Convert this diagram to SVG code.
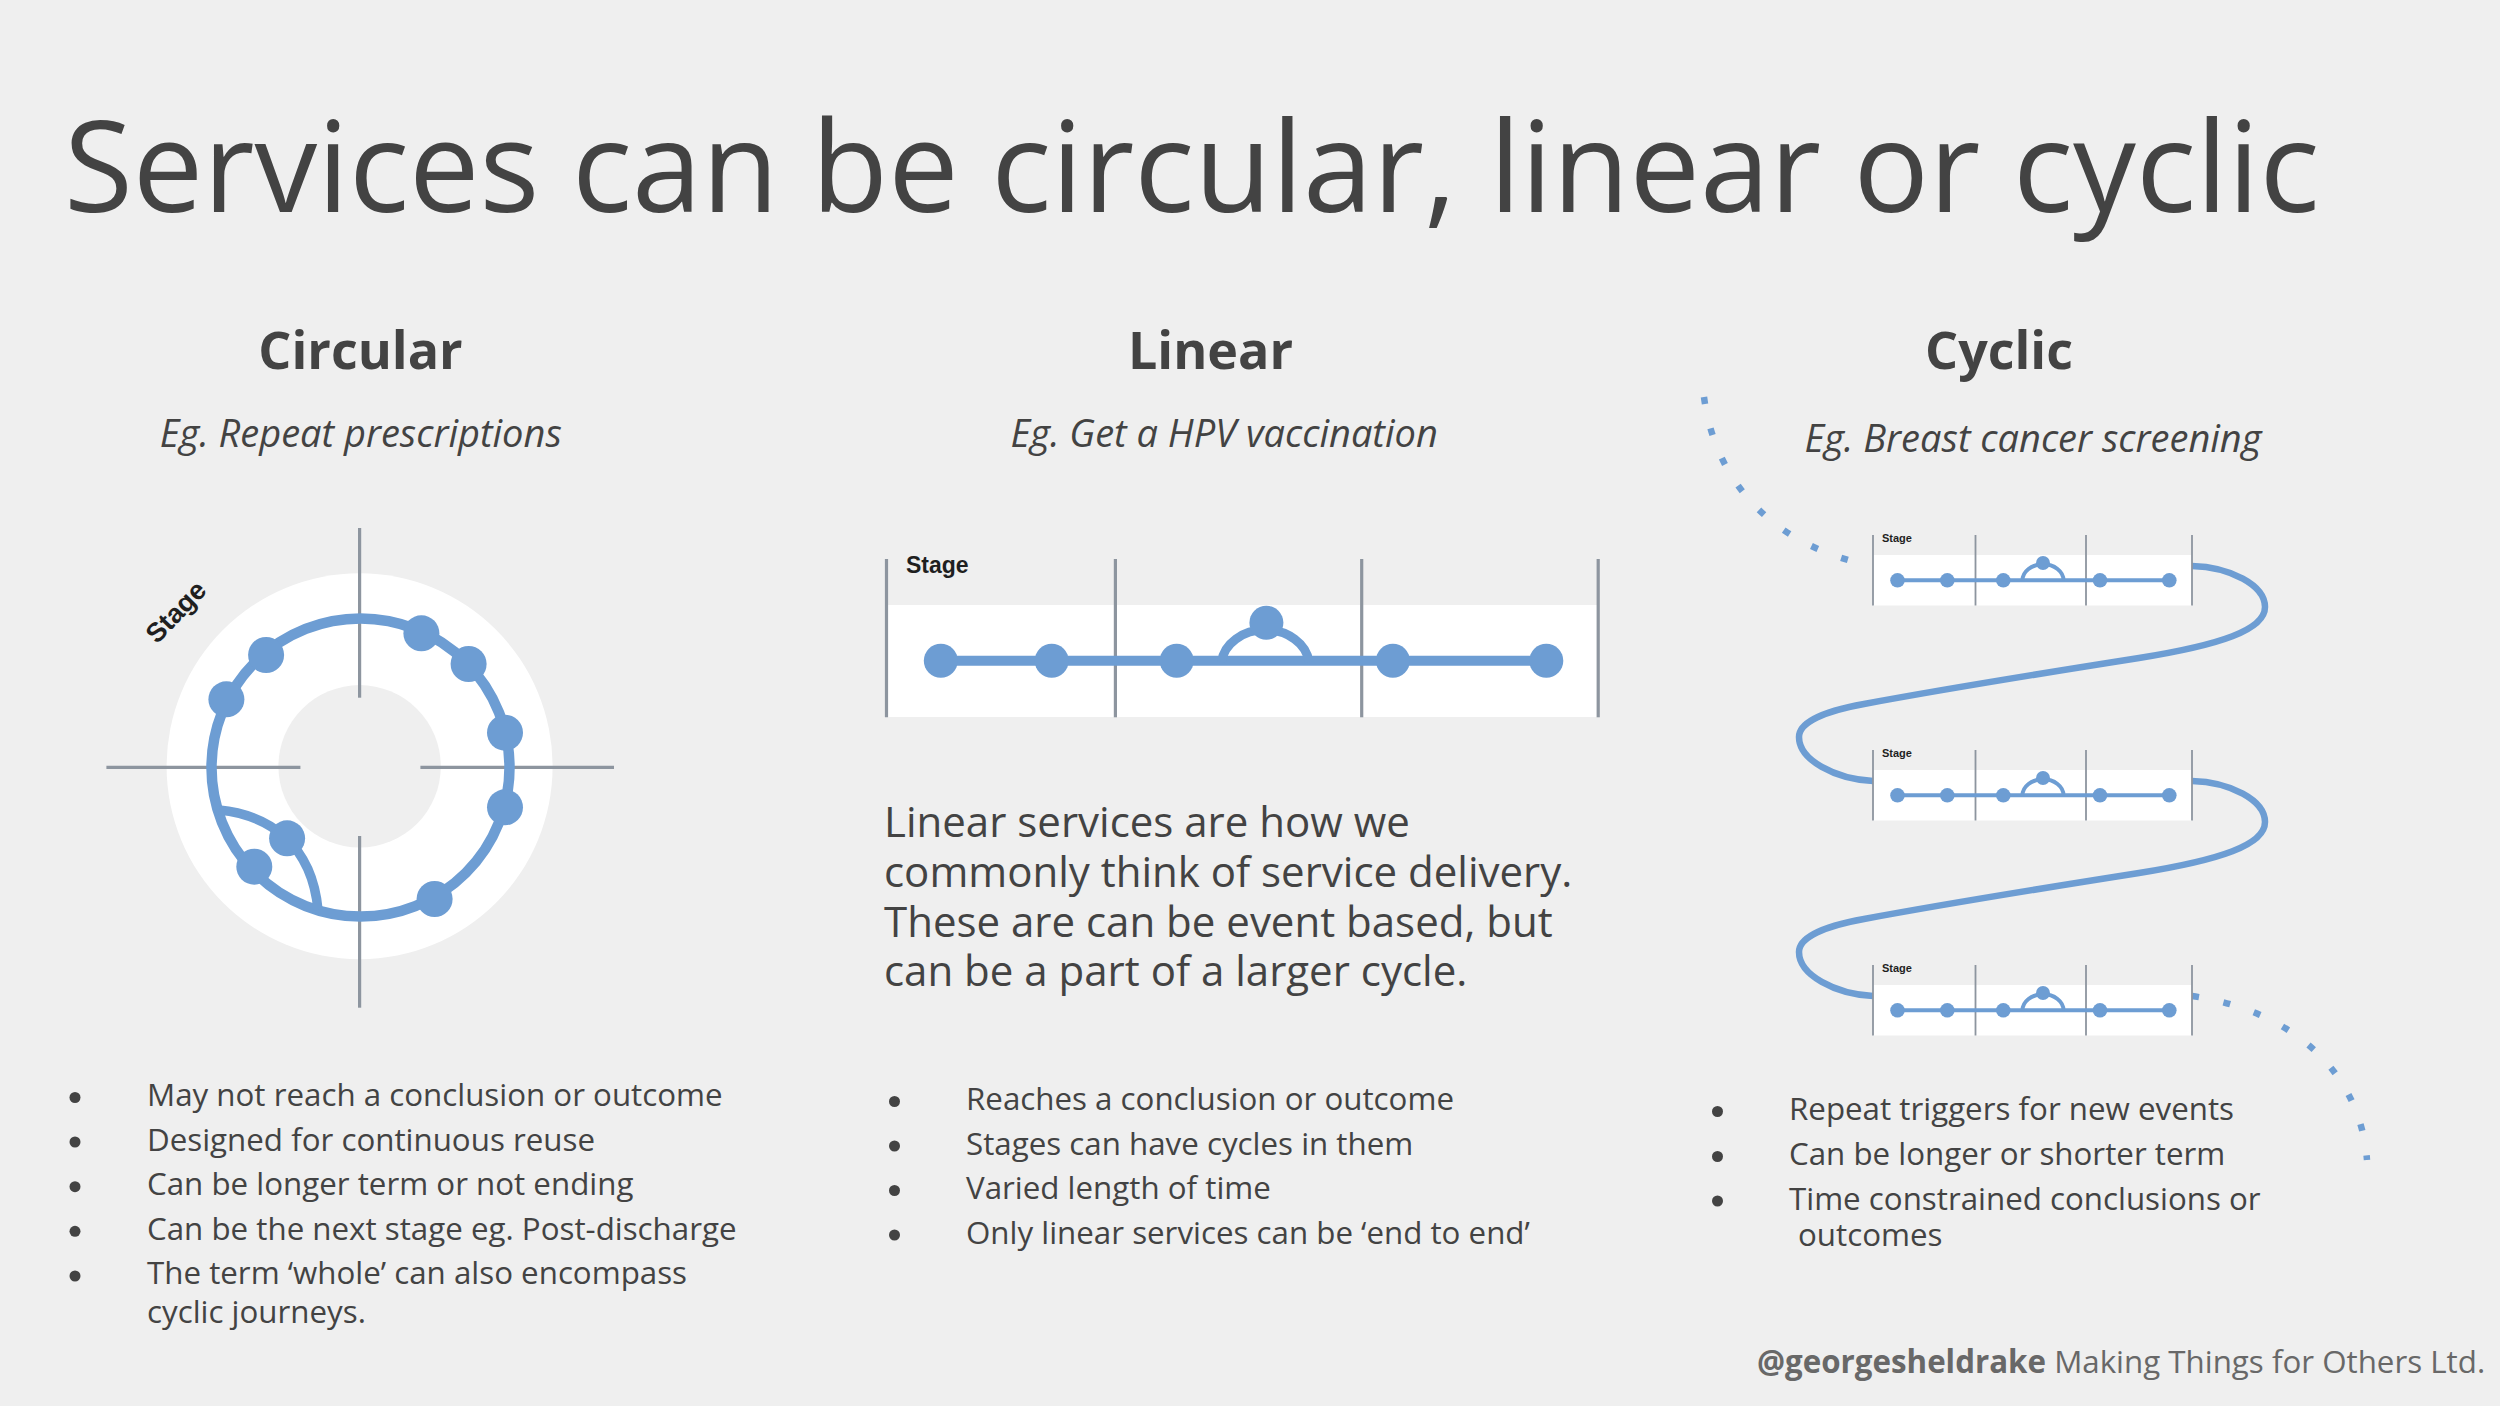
<svg xmlns="http://www.w3.org/2000/svg" xmlns:xlink="http://www.w3.org/1999/xlink" width="2500" height="1406" viewBox="0 0 2500 1406">
<style>
.txt{font-family:"Open Sans","Liberation Sans",sans-serif;fill:#434343}
.title{font-size:125.5px}
.head{font-size:52px;font-weight:700;text-anchor:middle}
.sub{font-size:38px;font-style:italic;text-anchor:middle}
.para{font-size:42px}
.bul{font-size:31.3px}
.stage{font-family:"Liberation Sans",Arial,sans-serif;font-weight:700;fill:#1f1f1f}
.blue{stroke:#6d9dd3;fill:none}
.dot{fill:#6d9dd3}
.grid{stroke:#8d959f;fill:none}
.bdot{fill:#434343}
</style>
<rect width="2500" height="1406" fill="#efefef"/>

<g id="title"><text class="txt title" x="64" y="212">Services can be circular, linear or cyclic</text></g>

<g id="headings">
<text class="txt head" x="360.5" y="369">Circular</text>
<text class="txt head" x="1210.5" y="369">Linear</text>
<text class="txt head" x="1999" y="369">Cyclic</text>
<text class="txt sub" x="360.8" y="446.7">Eg. Repeat prescriptions</text>
<text class="txt sub" x="1224.2" y="446.7">Eg. Get a HPV vaccination</text>
<text class="txt sub" x="2033" y="451.6">Eg. Breast cancer screening</text>
</g>

<g id="circular">
<circle cx="359.6" cy="766.3" r="193" fill="#ffffff"/>
<circle cx="359.6" cy="766.3" r="81.2" fill="#efefef"/>
<g class="grid" stroke-width="3.2">
<line x1="359.6" y1="528" x2="359.6" y2="697.7"/>
<line x1="359.6" y1="836" x2="359.6" y2="1007.7"/>
<line x1="106.4" y1="767.3" x2="300.4" y2="767.3"/>
<line x1="420.4" y1="767.3" x2="614" y2="767.3"/>
</g>
<circle class="blue" cx="360.5" cy="767.5" r="149" stroke-width="10.5"/>
<path class="blue" d="M 219 810 C 270 815 312 845 318 910" stroke-width="9.5"/>
<g class="dot">
<circle cx="266.1" cy="655" r="18"/>
<circle cx="226.4" cy="699.3" r="18"/>
<circle cx="421.4" cy="633.3" r="18"/>
<circle cx="468.6" cy="664" r="18"/>
<circle cx="505" cy="732.7" r="18"/>
<circle cx="505" cy="807.3" r="18"/>
<circle cx="434.6" cy="899" r="18"/>
<circle cx="287.1" cy="838.3" r="18"/>
<circle cx="254.3" cy="866.7" r="18"/>
</g>
<text class="stage" font-size="27" text-anchor="middle" transform="translate(176 612) rotate(-46)" x="0" y="9">Stage</text>
</g>

<g id="linear">
<rect x="886.5" y="605" width="711.7" height="112" fill="#ffffff"/>
<g class="grid" stroke-width="3.2">
<line x1="886.5" y1="559" x2="886.5" y2="717.3"/>
<line x1="1115.4" y1="559" x2="1115.4" y2="717.3"/>
<line x1="1361.7" y1="559" x2="1361.7" y2="717.3"/>
<line x1="1598.2" y1="559" x2="1598.2" y2="717.3"/>
</g>
<text class="stage" font-size="23" x="906" y="573">Stage</text>
<line class="blue" x1="940.8" y1="660.7" x2="1546.3" y2="660.7" stroke-width="10"/>
<path class="blue" d="M 1221.5 662 A 44 36 0 0 1 1309 662" stroke-width="9"/>
<g class="dot">
<circle cx="940.8" cy="660.7" r="17"/>
<circle cx="1051.7" cy="660.7" r="17"/>
<circle cx="1176.7" cy="660.7" r="17"/>
<circle cx="1392.9" cy="660.7" r="17"/>
<circle cx="1546.3" cy="660.7" r="17"/>
<circle cx="1266.4" cy="622.7" r="17"/>
</g>
</g>

<defs>
<g id="panel">
<rect x="1873" y="555" width="319" height="50.5" fill="#ffffff"/>
<g class="grid" stroke-width="1.8">
<line x1="1873" y1="535" x2="1873" y2="605.5"/>
<line x1="1975.5" y1="535" x2="1975.5" y2="605.5"/>
<line x1="2086" y1="535" x2="2086" y2="605.5"/>
<line x1="2192" y1="535" x2="2192" y2="605.5"/>
</g>
<text class="stage" font-size="11" x="1882" y="542">Stage</text>
<line class="blue" x1="1897.5" y1="580.3" x2="2169.3" y2="580.3" stroke-width="4"/>
<path class="blue" d="M 2022.5 580.3 A 20.5 16 0 0 1 2063.5 580.3" stroke-width="4"/>
<g class="dot">
<circle cx="1897.5" cy="580.3" r="7.3"/>
<circle cx="1947.3" cy="580.3" r="7.3"/>
<circle cx="2003.3" cy="580.3" r="7.3"/>
<circle cx="2100" cy="580.3" r="7.3"/>
<circle cx="2169.3" cy="580.3" r="7.3"/>
<circle cx="2043" cy="563" r="7"/>
</g>
</g>
</defs>

<g id="connectors">
<path class="blue" stroke-width="6.5" stroke-dasharray="7 25" d="M 1704 397 C 1715 480 1770 545 1872 566"/>
<path class="blue" stroke-width="6.5" d="M 2192 566 C 2230 567 2265 585 2265 607 C 2265 630 2220 645 2139 658 C 2050 672 1950 688 1864 704 C 1825 711 1799 722 1799 737 C 1799 760 1835 779 1873 781"/>
<path class="blue" stroke-width="6.5" transform="translate(0 215)" d="M 2192 566 C 2230 567 2265 585 2265 607 C 2265 630 2220 645 2139 658 C 2050 672 1950 688 1864 704 C 1825 711 1799 722 1799 737 C 1799 760 1835 779 1873 781"/>
<path class="blue" stroke-width="6.5" stroke-dasharray="7 25" d="M 2192 996 C 2290 1010 2360 1070 2367 1160"/>
</g>

<g id="cyclic-stage-1"><use xlink:href="#panel"/></g>
<g id="cyclic-stage-2"><use xlink:href="#panel" transform="translate(0 215)"/></g>
<g id="cyclic-stage-3"><use xlink:href="#panel" transform="translate(0 430)"/></g>

<g id="linear-text">
<text class="txt para" x="884" y="836.5">Linear services are how we</text>
<text class="txt para" x="884" y="886.5">commonly think of service delivery.</text>
<text class="txt para" x="884" y="936.5">These are can be event based, but</text>
<text class="txt para" x="884" y="986">can be a part of a larger cycle.</text>
</g>

<g id="circular-bullets">
<circle class="bdot" cx="75" cy="1097.5" r="5.5"/>
<circle class="bdot" cx="75" cy="1142" r="5.5"/>
<circle class="bdot" cx="75" cy="1186.7" r="5.5"/>
<circle class="bdot" cx="75" cy="1231.3" r="5.5"/>
<circle class="bdot" cx="75" cy="1276" r="5.5"/>
<text class="txt bul" x="147" y="1106">May not reach a conclusion or outcome</text>
<text class="txt bul" x="147" y="1150.6">Designed for continuous reuse</text>
<text class="txt bul" x="147" y="1195.2">Can be longer term or not ending</text>
<text class="txt bul" x="147" y="1239.8">Can be the next stage eg. Post-discharge</text>
<text class="txt bul" x="147" y="1284.4">The term ‘whole’ can also encompass</text>
<text class="txt bul" x="147" y="1322.5">cyclic journeys.</text>
</g>

<g id="linear-bullets">
<circle class="bdot" cx="894.5" cy="1101.5" r="5.5"/>
<circle class="bdot" cx="894.5" cy="1146" r="5.5"/>
<circle class="bdot" cx="894.5" cy="1190.5" r="5.5"/>
<circle class="bdot" cx="894.5" cy="1235" r="5.5"/>
<text class="txt bul" x="966" y="1110">Reaches a conclusion or outcome</text>
<text class="txt bul" x="966" y="1154.5">Stages can have cycles in them</text>
<text class="txt bul" x="966" y="1199">Varied length of time</text>
<text class="txt bul" x="966" y="1243.5">Only linear services can be ‘end to end’</text>
</g>

<g id="cyclic-bullets">
<circle class="bdot" cx="1717.5" cy="1111.5" r="5.5"/>
<circle class="bdot" cx="1717.5" cy="1156.5" r="5.5"/>
<circle class="bdot" cx="1717.5" cy="1201" r="5.5"/>
<text class="txt bul" x="1789" y="1120">Repeat triggers for new events</text>
<text class="txt bul" x="1789" y="1165">Can be longer or shorter term</text>
<text class="txt bul" x="1789" y="1209.5">Time constrained conclusions or</text>
<text class="txt bul" x="1798" y="1245.7">outcomes</text>
</g>

<g id="footer">
<text class="txt" x="1757" y="1373" font-size="31.3" style="fill:#686868"><tspan font-weight="700">@georgesheldrake</tspan> Making Things for Others Ltd.</text>
</g>
</svg>
